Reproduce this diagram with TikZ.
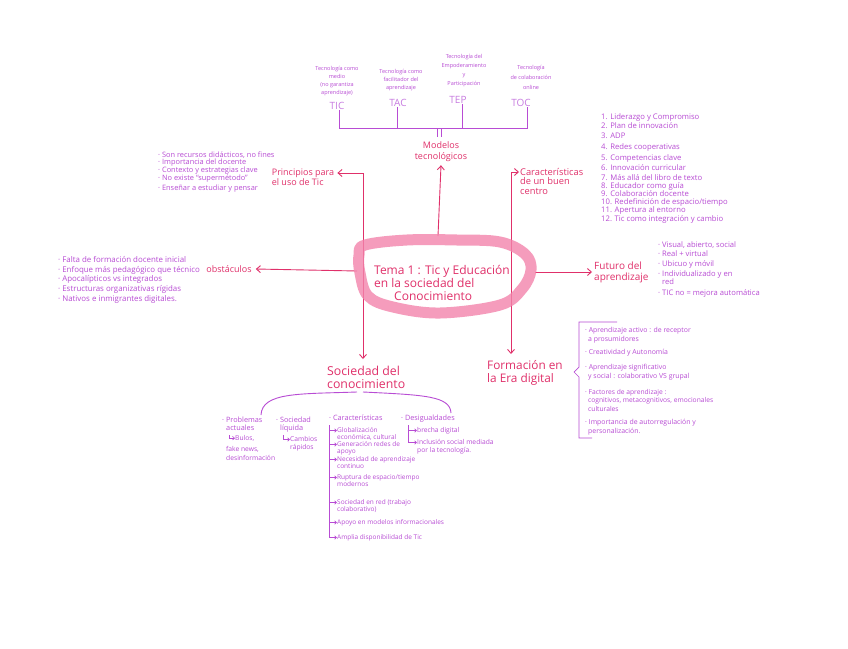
\documentclass[tikz,border=0pt]{standalone}
\usepackage{fontspec}
\setmainfont{Open Sans}
\usetikzlibrary{arrows.meta}
\definecolor{mpink}{HTML}{E0306A}
\definecolor{purp}{HTML}{B84CD4}
\definecolor{lpurp}{HTML}{C77BE0}
\definecolor{blobc}{HTML}{F384AC}
\newcommand{\fsz}[2]{\fontsize{#1}{#2}\selectfont}
\tikzset{
  mainlbl/.style={text=mpink, inner sep=0pt, align=left},
  det/.style={text=purp, inner sep=0pt, anchor=west, align=left},
  tag/.style={text=lpurp, inner sep=0pt, font=\fsz{10}{12}},
  desc/.style={text=purp, inner sep=0pt, align=center, font=\fsz{5.5}{8}},
  pa/.style={draw=mpink, line width=0.9pt, -{Straight Barb[length=4pt,width=7pt]}},
  pl/.style={draw=purp, line width=0.9pt},
  hk/.style={draw=purp, line width=0.6pt, -{Straight Barb[length=2pt,width=3.5pt]}},
}
\begin{document}
\begin{tikzpicture}[x=1pt,y=-1pt]
\fill[white] (0,0) rectangle (848,648);
\useasboundingbox (0,0) rectangle (848,648);

% ---------- top: models
\node[tag] (tic) at (337,106) {TIC};
\node[tag] (tac) at (398,103) {TAC};
\node[tag] (tep) at (458,100) {TEP};
\node[tag] (toc) at (521,103) {TOC};
\node[desc] (dtic) at (337,81) {Tecnología como\\medio\\(no garantiza\\aprendizaje)};
\node[desc] (dtac) at (401,80) {Tecnología como\\facilitador del\\aprendizaje};
\node[desc,font=\fsz{5.5}{9}] (dtep) at (464,71) {Tecnología del\\Empoderamiento\\y\\Participación};
\node[desc,font=\fsz{5.5}{10}] (dtoc) at (531,77) {Tecnología\\de colaboración\\online};
\coordinate (xtic) at (339,128);
\coordinate (xtac) at (397,128);
\coordinate (xtep) at (462,128);
\coordinate (xtoc) at (527,128);
\draw[pl] (tic.south -| xtic) -- (xtic) -- (xtoc) -- (xtoc |- toc.south);
\draw[pl] (tac.south -| xtac) -- (xtac);
\draw[pl] (tep.south -| xtep) -- (xtep);

\node[mainlbl,align=center,font=\fsz{9}{11}] (mod) at (441,152) {Modelos\\tecnológicos};
\coordinate (ma) at (437,128);
\coordinate (mb) at (441,128);
\coordinate (mae) at (437,137);
\coordinate (mbe) at (441,137);
\draw[pl,line width=0.7pt] (ma) -- (mae);
\draw[pl,line width=0.7pt] (mb) -- (mbe);

% ---------- central axes
\coordinate (lvtop) at (363,173);
\coordinate (rvtop) at (511,172);
\coordinate (hlft) at (357,271);
\coordinate (hrgt) at (535,272);
\coordinate (cup) at (438,236);

\node[mainlbl,font=\fsz{9}{10}] (prin) at (303,177) {Principios para\\el uso de Tic};
\node[mainlbl,anchor=west,font=\fsz{9.3}{9.5}] (car) at (520,181) {Características\\de un buen\\centro};
\node[mainlbl,font=\fsz{9}{10}] (obs) at (229,269) {obstáculos};
\node[mainlbl,anchor=west,font=\fsz{10}{11}] (fut) at (594,272) {Futuro del\\aprendizaje};
\node[mainlbl,anchor=north west,font=\fsz{12.3}{13}] (soc) at (327,366) {Sociedad del\\conocimiento};
\node[mainlbl,anchor=north west,font=\fsz{11.8}{13}] (form) at (487,360) {Formación en\\la Era digital};

\draw[pa] (cup) -- ([yshift=-3pt]mod.south);
\draw[pa] (lvtop) -- ([xshift=3pt]lvtop -| prin.east);
\draw[pa] (lvtop) -- ([yshift=7pt]lvtop |- soc.north);
\draw[pa] (rvtop) -- ([xshift=-1pt]rvtop -| car.west);
\draw[pa] (rvtop) -- ([yshift=6pt]rvtop |- form.north);
\draw[pa] (hlft) -- ([xshift=4pt]obs.east);
\draw[pa] (hrgt) -- ([xshift=-2pt]fut.west);

% ---------- blob
\draw[blobc, line width=11pt, opacity=0.8, line join=round]
  plot[smooth cycle, tension=0.6] coordinates {(365,245) (407,240) (457,240) (500,242) (525,254) (531,270) (522,289) (500,305) (440,313) (393,307) (368,296) (360,273) (359,255)};
\node[mainlbl,font=\fsz{12}{13}] (cen) at (442,283) {Tema 1 : Tic y Educación\\en la sociedad del\\\hspace{20pt}Conocimiento};

% ---------- principios list
\node[det,font=\fsz{7.4}{8}] (pr1) at (158,155) {· Son recursos didácticos, no fines};
\node[det,font=\fsz{7.4}{8}] (pr2) at (158,163) {· Importancia del docente};
\node[det,font=\fsz{7.4}{8}] (pr3) at (158,171) {· Contexto y estrategias clave};
\node[det,font=\fsz{7.4}{8}] (pr4) at (158,179) {· No existe “supermétodo”};
\node[det,font=\fsz{7.4}{8}] (pr5) at (158,189) {· Enseñar a estudiar y pensar};

% ---------- características list
\foreach \t/\y [count=\i] in {{1. Liderazgo y Compromiso}/117, {2. Plan de innovación}/126, {3. ADP}/136, {4. Redes cooperativas}/147, {5. Competencias clave}/158, {6. Innovación curricular}/168, {7. Más allá del libro de texto}/178, {8. Educador como guía}/186, {9. Colaboración docente}/194, {10. Redefinición de espacio/tiempo}/202, {11. Apertura al entorno}/210, {12. Tic como integración y cambio}/219}
  \node[det,font=\fsz{7.7}{8}] (cl\i) at (601,\y) {\t};

% ---------- obstáculos list
\node[det,font=\fsz{7.9}{8}] (ob1) at (58,260) {· Falta de formación docente inicial};
\node[det,font=\fsz{7.9}{8}] (ob2) at (58,270) {· Enfoque más pedagógico que técnico};
\node[det,font=\fsz{7.9}{8}] (ob3) at (58,279) {· Apocalípticos vs integrados};
\node[det,font=\fsz{7.9}{8}] (ob4) at (58,289) {· Estructuras organizativas rígidas};
\node[det,font=\fsz{7.9}{8}] (ob5) at (58,299) {· Nativos e inmigrantes digitales.};

% ---------- futuro list
\node[det,font=\fsz{7.6}{8}] (fu1) at (658,245) {· Visual, abierto, social};
\node[det,font=\fsz{7.6}{8}] (fu2) at (658,254) {· Real + virtual};
\node[det,font=\fsz{7.6}{8}] (fu3) at (658,264) {· Ubicuo y móvil};
\node[det,font=\fsz{7.6}{8}] (fu4) at (658,278) {· Individualizado y en\\\hspace{4pt}red};
\node[det,font=\fsz{7.6}{8}] (fu5) at (658,293) {· TIC no = mejora automática};

% ---------- formación list + brace
\draw[pl,line width=0.7pt] (617,322) -- (579,322) -- (579,367) -- (574,372) -- (579,377) -- (579,438) -- (592,438);
\node[det,font=\fsz{6.9}{9}] (fo1) at (585,335) {· Aprendizaje activo : de receptor\\\hspace{3pt}a prosumidores};
\node[det,font=\fsz{6.9}{9}] (fo2) at (585,353) {· Creatividad y Autonomía};
\node[det,font=\fsz{6.9}{9}] (fo3) at (585,372) {· Aprendizaje significativo\\\hspace{3pt}y social : colaborativo VS grupal};
\node[det,font=\fsz{6.7}{8.5}] (fo4) at (585,400) {· Factores de aprendizaje :\\\hspace{3pt}cognitivos, metacognitivos, emocionales\\\hspace{3pt}culturales};
\node[det,font=\fsz{6.9}{9.5}] (fo5) at (585,427) {· Importancia de autorregulación y\\\hspace{3pt}personalización.};

% ---------- sociedad sub-branches
\coordinate (sbl) at (357,392);
\coordinate (sbr) at (363,392);
\coordinate (pbt) at (261,415);
\coordinate (dgt) at (451,413);
\draw[pl] (sbl) .. controls (300,394) and (262,392) .. (pbt);
\draw[pl] (sbr) .. controls (425,395) and (450,396) .. (dgt);

\node[det,anchor=north west,font=\fsz{7.3}{8}] (prob) at (222,417) {· Problemas\\\hspace{4pt}actuales};
\node[det,anchor=north west,font=\fsz{6.7}{9.5}] (bul) at (235,435) {Bulos,};
\node[det,anchor=north west,font=\fsz{6.7}{9}] (fake) at (226,446) {fake news,\\desinformación};
\coordinate (hp) at (229,435);
\draw[hk] (hp) |- (bul.west);

\node[det,anchor=north west,font=\fsz{7.3}{8}] (liq) at (276,417) {· Sociedad\\\hspace{4pt}líquida};
\node[det,anchor=north west,font=\fsz{6.7}{8.5}] (camb) at (290,436) {Cambios\\rápidos};
\coordinate (hl) at (283,435);
\draw[hk] (hl) |- ([yshift=-3.5pt]camb.north west);

\node[det,anchor=north west,font=\fsz{7.3}{8}] (cara) at (329,415) {· Características};
\coordinate (cv) at (329,425);
\foreach \t/\y [count=\i] in {{Globalización\\económica, cultural}/427, {Generación redes de\\apoyo}/441, {Necesidad de aprendizaje\\continuo}/456, {Ruptura de espacio/tiempo\\modernos}/474, {Sociedad en red (trabajo\\colaborativo)}/499, {Apoyo en modelos informacionales}/519, {Amplia disponibilidad de Tic}/534}
{
  \node[det,anchor=north west,font=\fsz{6.5}{7.5}] (g\i) at (337,\y) {\t};
  \draw[hk] (cv) |- ([yshift=-3.5pt]g\i.north west);
}

\node[det,anchor=north west,font=\fsz{7.3}{8}] (desi) at (401,415) {· Desigualdades};
\coordinate (dv) at (408,425);
\node[det,anchor=north west,font=\fsz{6.7}{8}] (d1) at (417,427) {brecha digital};
\node[det,anchor=north west,font=\fsz{6.7}{8}] (d2) at (417,439) {Inclusión social mediada\\por la tecnología.};
\draw[hk] (dv) |- ([yshift=-3.5pt]d1.north west);
\draw[hk] (dv) |- ([yshift=-3.5pt]d2.north west);
\end{tikzpicture}
\end{document}
